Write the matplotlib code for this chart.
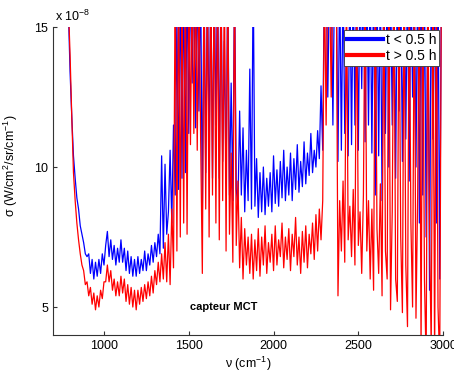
import numpy as np
import matplotlib
matplotlib.use("Agg")
import matplotlib.pyplot as plt

plt.rcParams["font.family"] = ["Liberation Sans", "DejaVu Sans"]
plt.rcParams["mathtext.fontset"] = "custom"
plt.rcParams["mathtext.rm"] = "Liberation Sans"
plt.rcParams["mathtext.it"] = "Liberation Sans"

# wavenumber grid (cm^-1), 780 .. 2990 step 10
nu = np.arange(780, 3000, 10)

# sigma, units of 1e-8 W/cm2/sr/cm-1, t < 0.5 h
sigma_early = [
    17, 15.6, 13.4, 11.8, 10.4, 9.6, 8.9, 8.5, 7.9, 7.6,
    7.3, 6.9, 6.8, 6.9, 6.2, 6.7, 6.0, 6.6, 6.1, 6.7,
    6.2, 6.9, 6.5, 7.2, 7.7, 6.8, 7.4, 6.7, 7.2, 6.5,
    7.1, 6.6, 7.4, 6.6, 7.1, 6.3, 7.0, 6.2, 6.8, 6.1,
    6.7, 6.1, 6.8, 6.2, 6.7, 6.3, 7.0, 6.3, 6.9, 6.5,
    7.2, 6.6, 7.3, 6.8, 7.6, 6.9, 10.4, 7.1, 10.1, 7.6,
    8.4, 10.6, 8.0, 11.5, 9.0, 15.5, 9.2, 17, 9.6, 17,
    9.8, 17, 11.2, 17, 13.0, 17, 11.4, 17, 12.0, 17,
    8.2, 17, 9.8, 17, 10.5, 17, 9.6, 17, 11.5, 17,
    9.6, 17, 10.2, 14.5, 9.4, 17, 9.0, 13.0, 8.8, 17,
    9.2, 8.6, 12.0, 9.0, 11.4, 8.4, 10.6, 8.8, 13.5, 8.5,
    17, 8.6, 10.3, 8.2, 9.8, 8.4, 10.0, 8.3, 9.6, 8.6,
    9.8, 8.4, 10.4, 8.7, 9.9, 8.6, 10.2, 8.9, 10.6, 8.8,
    10.0, 9.0, 10.5, 8.8, 10.3, 9.2, 10.8, 9.1, 10.2, 9.3,
    10.9, 9.4, 10.5, 9.7, 11.2, 9.8, 10.6, 10.0, 11.3, 10.3,
    12.9, 10.6, 17, 17, 12.5, 17, 17, 11.5, 17, 17,
    10.2, 17, 10.6, 17, 11.2, 14.0, 10.4, 17, 10.8, 17,
    11.5, 17, 10.6, 17, 12.8, 17, 10.9, 17, 11.5, 17,
    10.5, 17, 9.0, 17, 10.4, 17, 8.8, 17, 11.2, 17,
    10.0, 17, 11.5, 17, 9.6, 17, 12.0, 17, 10.2, 17,
    11.0, 17, 9.5, 17, 12.5, 17, 10.0, 17, 8.0, 17,
    9.0, 17, 7.5, 17, 5.6, 17, 11.0, 17, 8.0, 17,
    6.0, 17,
]

# sigma, units of 1e-8, t > 0.5 h
sigma_late = [
    17, 15.8, 14.0, 11.8, 9.8, 8.8, 8.0, 7.4, 6.9, 6.5,
    6.3, 5.8, 5.9, 5.4, 5.7, 5.1, 5.5, 4.9, 5.4, 5.0,
    5.6, 5.3, 5.9, 5.9, 6.5, 5.9, 6.3, 5.6, 6.0, 5.4,
    5.9, 5.4, 6.1, 5.5, 6.0, 5.2, 5.8, 5.1, 5.7, 5.0,
    5.6, 4.9, 5.6, 5.1, 5.7, 5.2, 5.8, 5.3, 5.9, 5.4,
    6.1, 5.5, 6.3, 5.8, 6.6, 5.9, 6.9, 6.0, 7.3, 5.9,
    7.6, 5.8, 8.5, 6.4, 17, 7.0, 17, 7.5, 17, 8.0,
    17, 7.6, 17, 10.8, 17, 11.2, 17, 10.6, 17, 11.0,
    6.2, 17, 8.5, 17, 7.5, 17, 9.0, 17, 8.0, 17,
    7.4, 17, 8.8, 17, 7.0, 17, 7.6, 10.5, 6.6, 17,
    7.2, 9.5, 6.4, 8.2, 6.0, 7.8, 6.5, 7.5, 6.2, 7.6,
    6.0, 7.4, 6.3, 7.8, 6.1, 7.5, 6.5, 7.9, 6.2, 7.3,
    6.6, 7.6, 6.3, 7.9, 6.5, 7.4, 6.8, 8.0, 6.4, 7.5,
    6.7, 7.8, 6.3, 7.6, 6.8, 8.2, 6.5, 7.5, 6.2, 7.7,
    6.6, 7.9, 6.4, 7.6, 6.9, 8.0, 6.7, 8.3, 7.0, 8.5,
    7.4, 8.8, 17, 11.5, 17, 17, 12.5, 17, 17, 17,
    5.4, 8.8, 7.0, 9.5, 6.6, 17, 7.4, 8.6, 6.8, 9.2,
    6.5, 17, 7.2, 8.4, 6.2, 9.0, 17, 7.0, 8.8, 6.0,
    8.5, 5.6, 17, 7.8, 6.2, 9.4, 5.4, 17, 7.0, 6.0,
    17, 4.9, 8.4, 17, 6.0, 5.2, 17, 7.5, 4.8, 17,
    6.5, 4.3, 17, 8.0, 5.0, 17, 4.6, 9.0, 17, 3.5,
    17, 6.0, 3.0, 17, 7.5, 3.5, 17, 3.0, 17, 5.0,
    3.0, 17,
]

series_labels = ["t < 0.5 h", "t > 0.5 h"]
x_ticks = [1000, 1500, 2000, 2500, 3000]
y_ticks = [5, 10, 15]

fig = plt.figure(figsize=(4.54, 3.76), dpi=100)
ax = fig.add_axes([0.117, 0.109, 0.859, 0.819])

ax.plot(nu, sigma_early, color="blue", lw=0.9)
ax.plot(nu, sigma_late, color="red", lw=0.9)

ax.set_xlim(700, 3000)
ax.set_ylim(4, 15)
ax.set_xticks(x_ticks)
ax.set_yticks(y_ticks)
ax.tick_params(direction="in", length=3, labelsize=9, color="#333333")
for s in ["top", "right"]:
    ax.spines[s].set_visible(False)
for s in ["left", "bottom"]:
    ax.spines[s].set_color("#333333")
    ax.spines[s].set_linewidth(0.8)

ax.set_xlabel("ν (cm$^{-1}$)", fontsize=9, labelpad=2)
ax.set_ylabel("σ (W/cm$^2$/sr/cm$^{-1}$)", fontsize=9)
ax.yaxis.set_label_coords(-0.085, 0.55)

ax.text(0.005, 1.035, "x 10$^{-8}$", transform=ax.transAxes, fontsize=9,
        ha="left", va="center")
ax.text(1510, 5.0, "capteur MCT", fontsize=8, fontweight="bold",
        ha="left", va="center")

h1, = ax.plot([], [], color="blue", lw=3)
h2, = ax.plot([], [], color="red", lw=3)
leg = ax.legend([h1, h2], series_labels, loc="upper right",
                bbox_to_anchor=(0.99, 0.99), fontsize=10, fancybox=False,
                framealpha=1, edgecolor="#333333", handlelength=2.6,
                handletextpad=0.2, borderpad=0.2, labelspacing=0.15,
                borderaxespad=0)
leg.get_frame().set_linewidth(0.6)

fig.savefig("out.png", dpi=100)
